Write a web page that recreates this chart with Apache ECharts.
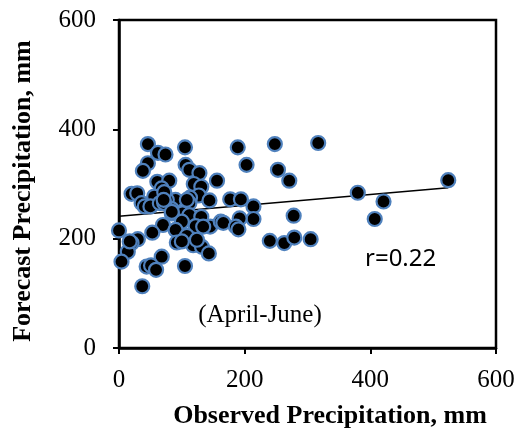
<!DOCTYPE html>
<html>
<head>
<meta charset="utf-8">
<script src="https://cdn.jsdelivr.net/npm/echarts@6/dist/echarts.min.js"></script>
<style>
  html, body { margin: 0; padding: 0; background: #fff; }
  #chart { width: 521px; height: 435px; }
</style>
</head>
<body>
<div id="chart"></div>
<script>
// Observed vs forecast precipitation, April-June (mm)
const observed = [
  46, 62, 74, 105, 189, 248, 317, 46, 38, 106, 112, 203, 253, 128, 156, 271,
  61, 80, 119, 131, 68, 20, 29, 56, 127, 113, 90, 76, 144, 177, 194, 36,
  41, 50, 65, 84, 112, 214, 101, 84, 112, 131, 278, 214, 192, 70, 100, 122,
  145, 162, 166, 186, 0, 53, 90, 108, 30, 20, 14, 4, 92, 118, 132, 143,
  68, 44, 51, 59, 105, 37, 240, 263, 279, 305, 380, 421, 407, 524, 72, 72,
  108, 134, 100, 124, 190, 17, 71, 84
];
const forecast = [
  373, 357, 354, 367, 367, 373, 375, 338, 324, 335, 326, 335, 326, 320, 306, 306,
  304, 306, 300, 295, 292, 282, 283, 277, 279, 275, 271, 271, 270, 272, 272, 265,
  259, 259, 265, 254, 265, 259, 246, 246, 243, 240, 242, 236, 237, 225, 231, 223,
  222, 231, 229, 222, 215, 211, 216, 205, 199, 192, 176, 158, 193, 188, 185, 173,
  167, 149, 151, 143, 150, 113, 196, 192, 202, 199, 284, 268, 236, 307, 285, 265,
  271, 222, 195, 198, 217, 195, 271, 249
];
// Fitted trend line end points
const trendX = [0, 524];
const trendY = [241, 293];
const axisTicks = [0, 200, 400, 600];

const points = observed.map((x, i) => [x, forecast[i]]);
const trend = trendX.map((x, i) => [x, trendY[i]]);

const chart = echarts.init(document.getElementById('chart'), null, { renderer: 'canvas' });
const serif = '"Liberation Serif", "Times New Roman", serif';

chart.setOption({
  animation: false,
  backgroundColor: '#fff',
  grid: {
    left: 119, right: 25, top: 20, bottom: 87,
    show: true, borderColor: '#000', borderWidth: 2.5, backgroundColor: 'transparent'
  },
  xAxis: {
    type: 'value', min: axisTicks[0], max: axisTicks[3], interval: 200,
    axisLine: { show: true, lineStyle: { color: '#000', width: 2.5 } },
    axisTick: { show: true, inside: false, length: 6, lineStyle: { color: '#000', width: 2 } },
    axisLabel: { margin: 20, color: '#000', fontFamily: serif, fontSize: 25 },
    splitLine: { show: false }
  },
  yAxis: {
    type: 'value', min: axisTicks[0], max: axisTicks[3], interval: 200,
    axisLine: { show: true, lineStyle: { color: '#000', width: 2.5 } },
    axisTick: { show: true, inside: false, length: 6, lineStyle: { color: '#000', width: 2 } },
    axisLabel: { margin: 23, color: '#000', fontFamily: serif, fontSize: 25 },
    splitLine: { show: false }
  },
  graphic: [
    {
      type: 'text', x: 330, y: 416,
      style: {
        text: 'Observed Precipitation, mm', x: 0, y: 0,
        textAlign: 'center', textVerticalAlign: 'middle',
        font: 'bold 26px ' + serif, fill: '#000'
      }
    },
    {
      type: 'text', rotation: Math.PI / 2, x: 23, y: 191,
      style: {
        text: 'Forecast Precipitation, mm', x: 0, y: 0,
        textAlign: 'center', textVerticalAlign: 'middle',
        font: 'bold 26px ' + serif, fill: '#000'
      }
    },
    {
      type: 'text', x: 260, y: 315,
      style: {
        text: '(April-June)', x: 0, y: 0,
        textAlign: 'center', textVerticalAlign: 'middle',
        font: '25px ' + serif, fill: '#000'
      }
    },
    {
      type: 'text', x: 365, y: 259,
      style: {
        text: 'r=0.22', x: 0, y: 0,
        textAlign: 'left', textVerticalAlign: 'middle',
        font: '24px "Noto Sans", sans-serif', fill: '#000'
      }
    }
  ],
  series: [
    {
      type: 'line',
      data: trend,
      symbol: 'none',
      lineStyle: { color: '#000', width: 1.5 },
      z: 1
    },
    {
      type: 'scatter',
      data: points,
      symbol: 'circle',
      symbolSize: 14,
      itemStyle: { color: '#000', borderColor: '#4f81bd', borderWidth: 2.2, opacity: 1 },
      z: 3
    }
  ]
});
</script>
</body>
</html>
